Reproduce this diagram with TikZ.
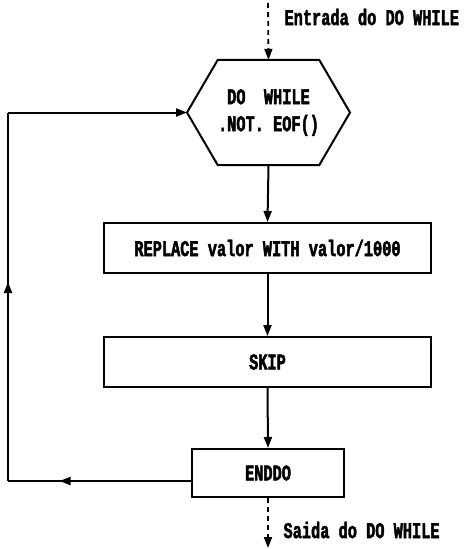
\documentclass[tikz,border=0pt]{standalone}
\usepackage{fontspec}
\setmainfont{Liberation Mono}[FakeStretch=0.68,FakeBold=2]
\usetikzlibrary{arrows.meta,decorations.markings}
\begin{document}
\begin{tikzpicture}[x=1pt,y=-1pt,
  every node/.style={font=\fontsize{22.5}{24}\selectfont\bfseries},
  box/.style={draw,line width=2pt,rectangle,inner sep=0pt},
  conn/.style={line width=2pt,-{Triangle[length=11pt,width=8pt]}},
  dconn/.style={line width=1.8pt,dash pattern=on 5pt off 4pt,-{Triangle[length=11pt,width=8pt]}},
  plain/.style={line width=2pt},
  midarrow/.style={line width=2pt,postaction={decorate},decoration={markings,mark=at position #1 with {\arrow{Triangle[length=11pt,width=8pt]}}}}]
\useasboundingbox (0,0) rectangle (466,549);
% nodes
\node (hex) at (268.5,112.5) [minimum width=97pt,minimum height=105pt,inner sep=0pt,align=center] {DO\ \ WHILE\\[3pt].NOT. EOF()};
\draw[plain,line join=miter] (hex.north west) -- (hex.north east) -- (350,112.5) -- (hex.south east) -- (hex.south west) -- (187,112.5) -- cycle;
\coordinate (hexL) at (187,112.5);
\node[box,minimum width=327pt,minimum height=50pt] (rep) at (267.5,248) {REPLACE valor WITH valor/1000};
\node[box,minimum width=327pt,minimum height=50pt] (skip) at (267.5,362) {SKIP};
\node[box,minimum width=152pt,minimum height=48pt] (enddo) at (268,473) {ENDDO};
\coordinate (top) at (268,3);
\coordinate (bot) at (268,548);
\node[anchor=west] (tin) at (281,17) {Entrada do DO WHILE};
\node[anchor=west] (tout) at (280,530) {Saida do DO WHILE};
\coordinate (c1) at (8,481);
\coordinate (c2) at (8,112.5);
\coordinate (ew) at (192,481);
% connectors
\draw[dconn] (top) -- (hex.north);
\draw[conn] (hex.south) -- (rep.north);
\draw[conn] (rep.south) -- (skip.north);
\draw[conn] (skip.south) -- (enddo.north);
\draw[dconn] (enddo.south) -- (bot);
\draw[midarrow=0.72] (ew) -- (c1);
\draw[midarrow=0.54] (c1) -- (c2);
\draw[conn] (c2) -- (hexL);
\end{tikzpicture}
\end{document}
